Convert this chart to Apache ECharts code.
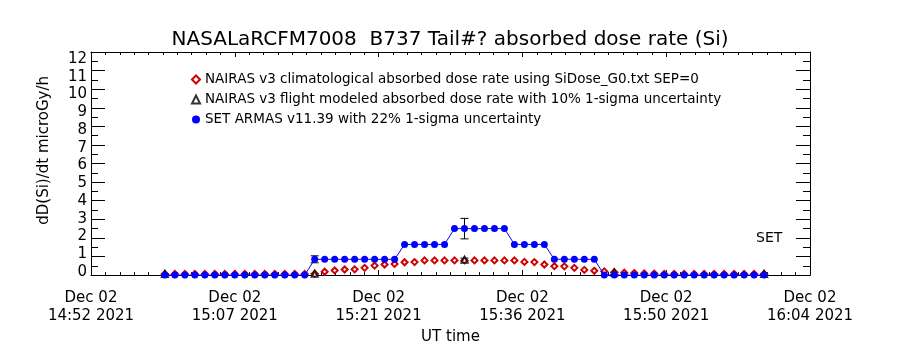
<!DOCTYPE html>
<html>
<head>
<meta charset="utf-8">
<script src="https://cdn.jsdelivr.net/npm/echarts@6/dist/echarts.min.js"></script>
<style>html,body{margin:0;padding:0;background:#fff;}#c{width:900px;height:350px;}</style>
</head>
<body>
<div id="c"></div>
<script>
// minutes after 14:52 UT, Dec 02 2021
const timeMin = [7.4,8.4,9.4,10.4,11.4,12.4,13.4,14.4,15.4,16.4,17.4,18.4,19.4,20.4,21.4,
  22.4,23.4,24.4,25.4,26.4,27.4,28.4,29.4,30.4,31.4,32.4,33.4,34.4,35.4,36.4,
  37.4,38.4,39.4,40.4,41.4,42.4,43.4,44.4,45.4,46.4,47.4,48.4,49.4,50.4,51.4,
  52.4,53.4,54.4,55.4,56.4,57.4,58.4,59.4,60.4,61.4,62.4,63.4,64.4,65.4,66.4,67.4];
// NAIRAS v3 climatological (red diamonds)
const nairasClim = [0.06,0.06,0.06,0.06,0.06,0.06,0.06,0.06,0.06,0.06,0.06,0.06,0.06,0.06,0.06,
  0.07,0.18,0.25,0.30,0.31,0.39,0.51,0.57,0.60,0.69,0.70,0.79,0.79,0.79,0.79,
  0.79,0.79,0.79,0.79,0.79,0.79,0.71,0.70,0.57,0.48,0.47,0.39,0.28,0.23,0.20,
  0.16,0.13,0.11,0.09,0.08,0.06,0.06,0.06,0.06,0.06,0.06,0.06,0.06,0.06,0.06,0.06];
// SET ARMAS v11.39 (blue)
const setArmas = [0,0,0,0,0,0,0,0,0,0,0,0,0,0,0,
  0.85,0.85,0.85,0.85,0.85,0.85,0.85,0.85,0.85,
  1.65,1.65,1.65,1.65,1.65,
  2.5,2.5,2.5,2.5,2.5,2.5,
  1.65,1.65,1.65,1.65,
  0.85,0.85,0.85,0.85,0.85,
  0,0,0,0,0,0,0,0,0,0,0,0,0,0,0,0,0];
// NAIRAS v3 flight modeled (black triangles), every 15th record
const flightIdx = [0,15,30,45,60];
const nairasFlight = [0.06,0.07,0.83,0.14,0.06];
const setSigma = 0.22, nairasSigma = 0.10;
const yTickValues = [0,1,2,3,4,5,6,7,8,9,10,11,12];
const yTickLabels = ["0","1","2","3","4","5","6","7","8","9","10","11","12"];
const xTickDate = ["Dec 02","Dec 02","Dec 02","Dec 02","Dec 02","Dec 02"];
const xTickTime = ["14:52 2021","15:07 2021","15:21 2021","15:36 2021","15:50 2021","16:04 2021"];
const names = [
  "NAIRAS v3 climatological absorbed dose rate using SiDose_G0.txt SEP=0",
  "NAIRAS v3 flight modeled absorbed dose rate with 10% 1-sigma uncertainty",
  "SET ARMAS v11.39 with 22% 1-sigma uncertainty"
];

const FONT = "DejaVu Sans";
const chart = echarts.init(document.getElementById('c'), null, {renderer:'canvas'});

const climData = timeMin.map((t,i)=>[t, nairasClim[i]]);
const setData = timeMin.map((t,i)=>[t, setArmas[i]]);
const flightData = flightIdx.map((k,j)=>[timeMin[k], nairasFlight[j]]);
const errData = [];
flightIdx.forEach((k,j)=>{
  const s = setArmas[k];
  errData.push([timeMin[k], s*(1-setSigma), s*(1+setSigma)]);
  const n = nairasFlight[j];
  errData.push([timeMin[k], n*(1-nairasSigma), n*(1+nairasSigma)]);
});

const axisCommon = {
  axisLine:{show:true, onZero:false, lineStyle:{color:'#000', width:1}},
  splitLine:{show:false},
};

chart.setOption({
  animation:false,
  backgroundColor:'#fff',
  textStyle:{fontFamily:FONT, color:'#000'},
  title:{text:"NASALaRCFM7008  B737 Tail#? absorbed dose rate (Si)", left:'center', top:25,
    textStyle:{fontFamily:FONT, fontSize:20, fontWeight:'normal', color:'#000'}},
  grid:{left:91, top:52, width:719, height:227, containLabel:false},
  legend:{orient:'vertical', left:186, top:67, itemGap:5, itemWidth:8, itemHeight:8,
    textStyle:{fontFamily:FONT, fontSize:13.5, color:'#000', lineHeight:15},
    data:[{name:names[0], icon:'emptyDiamond'},{name:names[1], icon:'emptyTriangle'},{name:names[2], icon:'circle'}]},
  xAxis:[
    Object.assign({type:'value', position:'bottom', min:0, max:72, interval:14.4,
      axisTick:{show:true, inside:true, length:5, lineStyle:{color:'#000'}},
      minorTick:{show:true, splitNumber:10, length:3, lineStyle:{color:'#000'}},
      axisLabel:{show:true, margin:14, fontFamily:FONT, fontSize:15, lineHeight:18, color:'#000',
        showMinLabel:true, showMaxLabel:true,
        formatter:(v)=>{const i=Math.round(v/14.4); return xTickDate[i]+"\n"+xTickTime[i];}},
      name:"UT time", nameLocation:'middle', nameGap:52,
      nameTextStyle:{fontFamily:FONT, fontSize:15, color:'#000'}}, axisCommon),
    Object.assign({type:'value', position:'top', min:0, max:72, interval:14.4,
      axisTick:{show:true, inside:true, length:5, lineStyle:{color:'#000'}},
      minorTick:{show:true, splitNumber:10, length:3, lineStyle:{color:'#000'}},
      axisLabel:{show:false}}, axisCommon)
  ],
  yAxis:[
    Object.assign({type:'value', position:'left', min:0, max:12, interval:1,
      axisTick:{show:true, inside:true, length:14, lineStyle:{color:'#000'}},
      minorTick:{show:true, splitNumber:2, length:7, lineStyle:{color:'#000'}},
      axisLabel:{show:false}}, axisCommon),
    Object.assign({type:'value', position:'right', min:0, max:12, interval:1,
      axisTick:{show:true, inside:true, length:14, lineStyle:{color:'#000'}},
      minorTick:{show:true, splitNumber:2, length:7, lineStyle:{color:'#000'}},
      axisLabel:{show:false}}, axisCommon),
    // label-only axis: the original plot packs its tick labels slightly inside the frame
    {type:'value', position:'left', min:-0.17, max:12.39,
      axisLine:{show:false}, axisTick:{show:false}, splitLine:{show:false},
      axisLabel:{show:true, margin:4, fontFamily:FONT, fontSize:15, lineHeight:12, color:'#000',
        customValues:yTickValues, showMinLabel:true, showMaxLabel:true,
        formatter:(v)=>yTickLabels[Math.round(v)]}}
  ],
  graphic:[
    {type:'text', left:37, top:76, rotation:Math.PI/2, style:{text:"dD(Si)/dt microGy/h", font:"15px 'DejaVu Sans'", fill:'#000'}},
    {type:'text', left:756, top:231, style:{text:"SET", font:"14px 'DejaVu Sans'", fill:'#000'}}
  ],
  series:[
    {name:'errbars', type:'custom', xAxisIndex:0, yAxisIndex:0, z:2, data:errData,
      renderItem:(params, api)=>{
        const lo = api.coord([api.value(0), api.value(1)]);
        const hi = api.coord([api.value(0), api.value(2)]);
        const w = 4;
        return {type:'group', children:[
          {type:'line', shape:{x1:lo[0], y1:lo[1], x2:hi[0], y2:hi[1]}, style:{stroke:'#000', lineWidth:1}},
          {type:'line', shape:{x1:lo[0]-w, y1:lo[1], x2:lo[0]+w, y2:lo[1]}, style:{stroke:'#000', lineWidth:1}},
          {type:'line', shape:{x1:hi[0]-w, y1:hi[1], x2:hi[0]+w, y2:hi[1]}, style:{stroke:'#000', lineWidth:1}}
        ]};
      }},
    {name:names[0], type:'line', data:climData, z:3, symbol:'emptyDiamond', symbolSize:6, showAllSymbol:true,
      lineStyle:{width:0, opacity:0}, itemStyle:{color:'#d00000', borderWidth:1}, clip:false},
    {name:names[1], type:'scatter', data:flightData, z:4, symbol:'emptyTriangle', symbolSize:6,
      itemStyle:{color:'#000', borderWidth:1}},
    {name:names[2], type:'line', data:setData, z:5, symbol:'circle', symbolSize:7, showAllSymbol:true,
      lineStyle:{color:'#0000ff', width:1}, itemStyle:{color:'#0000ff'}, clip:false}
  ]
});
</script>
</body>
</html>
